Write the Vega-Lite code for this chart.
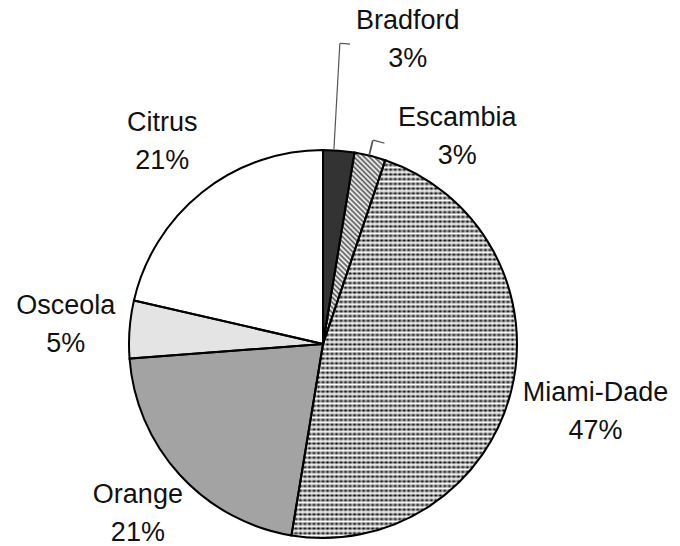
{
  "$schema": "https://vega.github.io/schema/vega-lite/v6.json",
  "autosize": {"type": "none"},
  "width": 600,
  "height": 400,
  "padding": {"left": 23, "top": 144, "right": 57, "bottom": 2},
  "background": "white",
  "config": {"view": {"stroke": null}},
  "data": {
    "values": [
      {"county": "Bradford", "value": 2.6, "idx": 1, "label": "Bradford\n3%"},
      {"county": "Escambia", "value": 2.6, "idx": 2, "label": "Escambia\n3%"},
      {"county": "Miami-Dade", "value": 47.4, "idx": 3, "label": "Miami-Dade\n47%"},
      {"county": "Orange", "value": 21.2, "idx": 4, "label": "Orange\n21%"},
      {"county": "Osceola", "value": 4.8, "idx": 5, "label": "Osceola\n5%"},
      {"county": "Citrus", "value": 21.4, "idx": 6, "label": "Citrus\n21%"}
    ]
  },
  "layer": [
    {
      "mark": {"type": "arc", "outerRadius": 194, "stroke": null},
      "encoding": {
        "theta": {"field": "value", "type": "quantitative", "stack": true, "scale": {"domain": [0, 100]}},
        "order": {"field": "idx", "type": "quantitative"},
        "color": {
          "condition": [
            {"test": "datum.county === 'Miami-Dade'", "value": {"gradient": "linear", "x1": 0, "y1": 0, "x2": 0, "y2": 1, "stops": [
              {"offset": 0, "color": "#000000"}, {"offset": 0.00625, "color": "#ffffff"}, {"offset": 0.0125, "color": "#000000"}, {"offset": 0.01875, "color": "#ffffff"}, {"offset": 0.025, "color": "#000000"}, {"offset": 0.03125, "color": "#ffffff"}, {"offset": 0.0375, "color": "#000000"}, {"offset": 0.04375, "color": "#ffffff"}, {"offset": 0.05, "color": "#000000"}, {"offset": 0.05625, "color": "#ffffff"}, {"offset": 0.0625, "color": "#000000"}, {"offset": 0.06875, "color": "#ffffff"}, {"offset": 0.075, "color": "#000000"}, {"offset": 0.08125, "color": "#ffffff"}, {"offset": 0.0875, "color": "#000000"}, {"offset": 0.09375, "color": "#ffffff"},
              {"offset": 0.1, "color": "#000000"}, {"offset": 0.10625, "color": "#ffffff"}, {"offset": 0.1125, "color": "#000000"}, {"offset": 0.11875, "color": "#ffffff"}, {"offset": 0.125, "color": "#000000"}, {"offset": 0.13125, "color": "#ffffff"}, {"offset": 0.1375, "color": "#000000"}, {"offset": 0.14375, "color": "#ffffff"}, {"offset": 0.15, "color": "#000000"}, {"offset": 0.15625, "color": "#ffffff"}, {"offset": 0.1625, "color": "#000000"}, {"offset": 0.16875, "color": "#ffffff"}, {"offset": 0.175, "color": "#000000"}, {"offset": 0.18125, "color": "#ffffff"}, {"offset": 0.1875, "color": "#000000"}, {"offset": 0.19375, "color": "#ffffff"},
              {"offset": 0.2, "color": "#000000"}, {"offset": 0.20625, "color": "#ffffff"}, {"offset": 0.2125, "color": "#000000"}, {"offset": 0.21875, "color": "#ffffff"}, {"offset": 0.225, "color": "#000000"}, {"offset": 0.23125, "color": "#ffffff"}, {"offset": 0.2375, "color": "#000000"}, {"offset": 0.24375, "color": "#ffffff"}, {"offset": 0.25, "color": "#000000"}, {"offset": 0.25625, "color": "#ffffff"}, {"offset": 0.2625, "color": "#000000"}, {"offset": 0.26875, "color": "#ffffff"}, {"offset": 0.275, "color": "#000000"}, {"offset": 0.28125, "color": "#ffffff"}, {"offset": 0.2875, "color": "#000000"}, {"offset": 0.29375, "color": "#ffffff"},
              {"offset": 0.3, "color": "#000000"}, {"offset": 0.30625, "color": "#ffffff"}, {"offset": 0.3125, "color": "#000000"}, {"offset": 0.31875, "color": "#ffffff"}, {"offset": 0.325, "color": "#000000"}, {"offset": 0.33125, "color": "#ffffff"}, {"offset": 0.3375, "color": "#000000"}, {"offset": 0.34375, "color": "#ffffff"}, {"offset": 0.35, "color": "#000000"}, {"offset": 0.35625, "color": "#ffffff"}, {"offset": 0.3625, "color": "#000000"}, {"offset": 0.36875, "color": "#ffffff"}, {"offset": 0.375, "color": "#000000"}, {"offset": 0.38125, "color": "#ffffff"}, {"offset": 0.3875, "color": "#000000"}, {"offset": 0.39375, "color": "#ffffff"},
              {"offset": 0.4, "color": "#000000"}, {"offset": 0.40625, "color": "#ffffff"}, {"offset": 0.4125, "color": "#000000"}, {"offset": 0.41875, "color": "#ffffff"}, {"offset": 0.425, "color": "#000000"}, {"offset": 0.43125, "color": "#ffffff"}, {"offset": 0.4375, "color": "#000000"}, {"offset": 0.44375, "color": "#ffffff"}, {"offset": 0.45, "color": "#000000"}, {"offset": 0.45625, "color": "#ffffff"}, {"offset": 0.4625, "color": "#000000"}, {"offset": 0.46875, "color": "#ffffff"}, {"offset": 0.475, "color": "#000000"}, {"offset": 0.48125, "color": "#ffffff"}, {"offset": 0.4875, "color": "#000000"}, {"offset": 0.49375, "color": "#ffffff"},
              {"offset": 0.5, "color": "#000000"}, {"offset": 0.50625, "color": "#ffffff"}, {"offset": 0.5125, "color": "#000000"}, {"offset": 0.51875, "color": "#ffffff"}, {"offset": 0.525, "color": "#000000"}, {"offset": 0.53125, "color": "#ffffff"}, {"offset": 0.5375, "color": "#000000"}, {"offset": 0.54375, "color": "#ffffff"}, {"offset": 0.55, "color": "#000000"}, {"offset": 0.55625, "color": "#ffffff"}, {"offset": 0.5625, "color": "#000000"}, {"offset": 0.56875, "color": "#ffffff"}, {"offset": 0.575, "color": "#000000"}, {"offset": 0.58125, "color": "#ffffff"}, {"offset": 0.5875, "color": "#000000"}, {"offset": 0.59375, "color": "#ffffff"},
              {"offset": 0.6, "color": "#000000"}, {"offset": 0.60625, "color": "#ffffff"}, {"offset": 0.6125, "color": "#000000"}, {"offset": 0.61875, "color": "#ffffff"}, {"offset": 0.625, "color": "#000000"}, {"offset": 0.63125, "color": "#ffffff"}, {"offset": 0.6375, "color": "#000000"}, {"offset": 0.64375, "color": "#ffffff"}, {"offset": 0.65, "color": "#000000"}, {"offset": 0.65625, "color": "#ffffff"}, {"offset": 0.6625, "color": "#000000"}, {"offset": 0.66875, "color": "#ffffff"}, {"offset": 0.675, "color": "#000000"}, {"offset": 0.68125, "color": "#ffffff"}, {"offset": 0.6875, "color": "#000000"}, {"offset": 0.69375, "color": "#ffffff"},
              {"offset": 0.7, "color": "#000000"}, {"offset": 0.70625, "color": "#ffffff"}, {"offset": 0.7125, "color": "#000000"}, {"offset": 0.71875, "color": "#ffffff"}, {"offset": 0.725, "color": "#000000"}, {"offset": 0.73125, "color": "#ffffff"}, {"offset": 0.7375, "color": "#000000"}, {"offset": 0.74375, "color": "#ffffff"}, {"offset": 0.75, "color": "#000000"}, {"offset": 0.75625, "color": "#ffffff"}, {"offset": 0.7625, "color": "#000000"}, {"offset": 0.76875, "color": "#ffffff"}, {"offset": 0.775, "color": "#000000"}, {"offset": 0.78125, "color": "#ffffff"}, {"offset": 0.7875, "color": "#000000"}, {"offset": 0.79375, "color": "#ffffff"},
              {"offset": 0.8, "color": "#000000"}, {"offset": 0.80625, "color": "#ffffff"}, {"offset": 0.8125, "color": "#000000"}, {"offset": 0.81875, "color": "#ffffff"}, {"offset": 0.825, "color": "#000000"}, {"offset": 0.83125, "color": "#ffffff"}, {"offset": 0.8375, "color": "#000000"}, {"offset": 0.84375, "color": "#ffffff"}, {"offset": 0.85, "color": "#000000"}, {"offset": 0.85625, "color": "#ffffff"}, {"offset": 0.8625, "color": "#000000"}, {"offset": 0.86875, "color": "#ffffff"}, {"offset": 0.875, "color": "#000000"}, {"offset": 0.88125, "color": "#ffffff"}, {"offset": 0.8875, "color": "#000000"}, {"offset": 0.89375, "color": "#ffffff"},
              {"offset": 0.9, "color": "#000000"}, {"offset": 0.90625, "color": "#ffffff"}, {"offset": 0.9125, "color": "#000000"}, {"offset": 0.91875, "color": "#ffffff"}, {"offset": 0.925, "color": "#000000"}, {"offset": 0.93125, "color": "#ffffff"}, {"offset": 0.9375, "color": "#000000"}, {"offset": 0.94375, "color": "#ffffff"}, {"offset": 0.95, "color": "#000000"}, {"offset": 0.95625, "color": "#ffffff"}, {"offset": 0.9625, "color": "#000000"}, {"offset": 0.96875, "color": "#ffffff"}, {"offset": 0.975, "color": "#000000"}, {"offset": 0.98125, "color": "#ffffff"}, {"offset": 0.9875, "color": "#000000"}, {"offset": 0.99375, "color": "#ffffff"},
              {"offset": 1, "color": "#000000"}
            ]}},
            {"test": "datum.county === 'Escambia'", "value": {"gradient": "linear", "x1": 1, "y1": 0, "x2": 0.611, "y2": 1.198, "stops": [
              {"offset": 0, "color": "#555555"}, {"offset": 0.01, "color": "#ffffff"}, {"offset": 0.02, "color": "#555555"}, {"offset": 0.03, "color": "#ffffff"}, {"offset": 0.04, "color": "#555555"}, {"offset": 0.05, "color": "#ffffff"}, {"offset": 0.06, "color": "#555555"}, {"offset": 0.07, "color": "#ffffff"}, {"offset": 0.08, "color": "#555555"}, {"offset": 0.09, "color": "#ffffff"},
              {"offset": 0.1, "color": "#555555"}, {"offset": 0.11, "color": "#ffffff"}, {"offset": 0.12, "color": "#555555"}, {"offset": 0.13, "color": "#ffffff"}, {"offset": 0.14, "color": "#555555"}, {"offset": 0.15, "color": "#ffffff"}, {"offset": 0.16, "color": "#555555"}, {"offset": 0.17, "color": "#ffffff"}, {"offset": 0.18, "color": "#555555"}, {"offset": 0.19, "color": "#ffffff"},
              {"offset": 0.2, "color": "#555555"}, {"offset": 0.21, "color": "#ffffff"}, {"offset": 0.22, "color": "#555555"}, {"offset": 0.23, "color": "#ffffff"}, {"offset": 0.24, "color": "#555555"}, {"offset": 0.25, "color": "#ffffff"}, {"offset": 0.26, "color": "#555555"}, {"offset": 0.27, "color": "#ffffff"}, {"offset": 0.28, "color": "#555555"}, {"offset": 0.29, "color": "#ffffff"},
              {"offset": 0.3, "color": "#555555"}, {"offset": 0.31, "color": "#ffffff"}, {"offset": 0.32, "color": "#555555"}, {"offset": 0.33, "color": "#ffffff"}, {"offset": 0.34, "color": "#555555"}, {"offset": 0.35, "color": "#ffffff"}, {"offset": 0.36, "color": "#555555"}, {"offset": 0.37, "color": "#ffffff"}, {"offset": 0.38, "color": "#555555"}, {"offset": 0.39, "color": "#ffffff"},
              {"offset": 0.4, "color": "#555555"}, {"offset": 0.41, "color": "#ffffff"}, {"offset": 0.42, "color": "#555555"}, {"offset": 0.43, "color": "#ffffff"}, {"offset": 0.44, "color": "#555555"}, {"offset": 0.45, "color": "#ffffff"}, {"offset": 0.46, "color": "#555555"}, {"offset": 0.47, "color": "#ffffff"}, {"offset": 0.48, "color": "#555555"}, {"offset": 0.49, "color": "#ffffff"},
              {"offset": 0.5, "color": "#555555"}, {"offset": 0.51, "color": "#ffffff"}, {"offset": 0.52, "color": "#555555"}, {"offset": 0.53, "color": "#ffffff"}, {"offset": 0.54, "color": "#555555"}, {"offset": 0.55, "color": "#ffffff"}, {"offset": 0.56, "color": "#555555"}, {"offset": 0.57, "color": "#ffffff"}, {"offset": 0.58, "color": "#555555"}, {"offset": 0.59, "color": "#ffffff"},
              {"offset": 0.6, "color": "#555555"}, {"offset": 0.61, "color": "#ffffff"}, {"offset": 0.62, "color": "#555555"}, {"offset": 0.63, "color": "#ffffff"}, {"offset": 0.64, "color": "#555555"}, {"offset": 0.65, "color": "#ffffff"}, {"offset": 0.66, "color": "#555555"}, {"offset": 0.67, "color": "#ffffff"}, {"offset": 0.68, "color": "#555555"}, {"offset": 0.69, "color": "#ffffff"},
              {"offset": 0.7, "color": "#555555"}, {"offset": 0.71, "color": "#ffffff"}, {"offset": 0.72, "color": "#555555"}, {"offset": 0.73, "color": "#ffffff"}, {"offset": 0.74, "color": "#555555"}, {"offset": 0.75, "color": "#ffffff"}, {"offset": 0.76, "color": "#555555"}, {"offset": 0.77, "color": "#ffffff"}, {"offset": 0.78, "color": "#555555"}, {"offset": 0.79, "color": "#ffffff"},
              {"offset": 0.8, "color": "#555555"}, {"offset": 0.81, "color": "#ffffff"}, {"offset": 0.82, "color": "#555555"}, {"offset": 0.83, "color": "#ffffff"}, {"offset": 0.84, "color": "#555555"}, {"offset": 0.85, "color": "#ffffff"}, {"offset": 0.86, "color": "#555555"}, {"offset": 0.87, "color": "#ffffff"}, {"offset": 0.88, "color": "#555555"}, {"offset": 0.89, "color": "#ffffff"},
              {"offset": 0.9, "color": "#555555"}, {"offset": 0.91, "color": "#ffffff"}, {"offset": 0.92, "color": "#555555"}, {"offset": 0.93, "color": "#ffffff"}, {"offset": 0.94, "color": "#555555"}, {"offset": 0.95, "color": "#ffffff"}, {"offset": 0.96, "color": "#555555"}, {"offset": 0.97, "color": "#ffffff"}, {"offset": 0.98, "color": "#555555"}, {"offset": 0.99, "color": "#ffffff"},
              {"offset": 1, "color": "#555555"}
            ]}}
          ],
          "field": "county", "type": "nominal", "legend": null,
          "scale": {
            "domain": ["Bradford", "Escambia", "Miami-Dade", "Orange", "Osceola", "Citrus"],
            "range": ["#333333", "#c4c4c4", "#a8a8a8", "#a3a3a3", "#e4e4e4", "#ffffff"]
          }
        }
      }
    },
    {
      "mark": {"type": "arc", "outerRadius": 194, "stroke": null},
      "encoding": {
        "theta": {"field": "value", "type": "quantitative", "stack": true},
        "order": {"field": "idx", "type": "quantitative"},
        "color": {
          "condition": {"test": "datum.county === 'Miami-Dade'", "value": {"gradient": "linear", "x1": 0, "y1": 0, "x2": 1, "y2": 0, "stops": [
            {"offset": 0, "color": "rgba(255,255,255,0)"}, {"offset": 0.01, "color": "rgba(255,255,255,0.6)"}, {"offset": 0.02, "color": "rgba(255,255,255,0)"}, {"offset": 0.03, "color": "rgba(255,255,255,0.6)"}, {"offset": 0.04, "color": "rgba(255,255,255,0)"}, {"offset": 0.05, "color": "rgba(255,255,255,0.6)"}, {"offset": 0.06, "color": "rgba(255,255,255,0)"}, {"offset": 0.07, "color": "rgba(255,255,255,0.6)"}, {"offset": 0.08, "color": "rgba(255,255,255,0)"}, {"offset": 0.09, "color": "rgba(255,255,255,0.6)"},
            {"offset": 0.1, "color": "rgba(255,255,255,0)"}, {"offset": 0.11, "color": "rgba(255,255,255,0.6)"}, {"offset": 0.12, "color": "rgba(255,255,255,0)"}, {"offset": 0.13, "color": "rgba(255,255,255,0.6)"}, {"offset": 0.14, "color": "rgba(255,255,255,0)"}, {"offset": 0.15, "color": "rgba(255,255,255,0.6)"}, {"offset": 0.16, "color": "rgba(255,255,255,0)"}, {"offset": 0.17, "color": "rgba(255,255,255,0.6)"}, {"offset": 0.18, "color": "rgba(255,255,255,0)"}, {"offset": 0.19, "color": "rgba(255,255,255,0.6)"},
            {"offset": 0.2, "color": "rgba(255,255,255,0)"}, {"offset": 0.21, "color": "rgba(255,255,255,0.6)"}, {"offset": 0.22, "color": "rgba(255,255,255,0)"}, {"offset": 0.23, "color": "rgba(255,255,255,0.6)"}, {"offset": 0.24, "color": "rgba(255,255,255,0)"}, {"offset": 0.25, "color": "rgba(255,255,255,0.6)"}, {"offset": 0.26, "color": "rgba(255,255,255,0)"}, {"offset": 0.27, "color": "rgba(255,255,255,0.6)"}, {"offset": 0.28, "color": "rgba(255,255,255,0)"}, {"offset": 0.29, "color": "rgba(255,255,255,0.6)"},
            {"offset": 0.3, "color": "rgba(255,255,255,0)"}, {"offset": 0.31, "color": "rgba(255,255,255,0.6)"}, {"offset": 0.32, "color": "rgba(255,255,255,0)"}, {"offset": 0.33, "color": "rgba(255,255,255,0.6)"}, {"offset": 0.34, "color": "rgba(255,255,255,0)"}, {"offset": 0.35, "color": "rgba(255,255,255,0.6)"}, {"offset": 0.36, "color": "rgba(255,255,255,0)"}, {"offset": 0.37, "color": "rgba(255,255,255,0.6)"}, {"offset": 0.38, "color": "rgba(255,255,255,0)"}, {"offset": 0.39, "color": "rgba(255,255,255,0.6)"},
            {"offset": 0.4, "color": "rgba(255,255,255,0)"}, {"offset": 0.41, "color": "rgba(255,255,255,0.6)"}, {"offset": 0.42, "color": "rgba(255,255,255,0)"}, {"offset": 0.43, "color": "rgba(255,255,255,0.6)"}, {"offset": 0.44, "color": "rgba(255,255,255,0)"}, {"offset": 0.45, "color": "rgba(255,255,255,0.6)"}, {"offset": 0.46, "color": "rgba(255,255,255,0)"}, {"offset": 0.47, "color": "rgba(255,255,255,0.6)"}, {"offset": 0.48, "color": "rgba(255,255,255,0)"}, {"offset": 0.49, "color": "rgba(255,255,255,0.6)"},
            {"offset": 0.5, "color": "rgba(255,255,255,0)"}, {"offset": 0.51, "color": "rgba(255,255,255,0.6)"}, {"offset": 0.52, "color": "rgba(255,255,255,0)"}, {"offset": 0.53, "color": "rgba(255,255,255,0.6)"}, {"offset": 0.54, "color": "rgba(255,255,255,0)"}, {"offset": 0.55, "color": "rgba(255,255,255,0.6)"}, {"offset": 0.56, "color": "rgba(255,255,255,0)"}, {"offset": 0.57, "color": "rgba(255,255,255,0.6)"}, {"offset": 0.58, "color": "rgba(255,255,255,0)"}, {"offset": 0.59, "color": "rgba(255,255,255,0.6)"},
            {"offset": 0.6, "color": "rgba(255,255,255,0)"}, {"offset": 0.61, "color": "rgba(255,255,255,0.6)"}, {"offset": 0.62, "color": "rgba(255,255,255,0)"}, {"offset": 0.63, "color": "rgba(255,255,255,0.6)"}, {"offset": 0.64, "color": "rgba(255,255,255,0)"}, {"offset": 0.65, "color": "rgba(255,255,255,0.6)"}, {"offset": 0.66, "color": "rgba(255,255,255,0)"}, {"offset": 0.67, "color": "rgba(255,255,255,0.6)"}, {"offset": 0.68, "color": "rgba(255,255,255,0)"}, {"offset": 0.69, "color": "rgba(255,255,255,0.6)"},
            {"offset": 0.7, "color": "rgba(255,255,255,0)"}, {"offset": 0.71, "color": "rgba(255,255,255,0.6)"}, {"offset": 0.72, "color": "rgba(255,255,255,0)"}, {"offset": 0.73, "color": "rgba(255,255,255,0.6)"}, {"offset": 0.74, "color": "rgba(255,255,255,0)"}, {"offset": 0.75, "color": "rgba(255,255,255,0.6)"}, {"offset": 0.76, "color": "rgba(255,255,255,0)"}, {"offset": 0.77, "color": "rgba(255,255,255,0.6)"}, {"offset": 0.78, "color": "rgba(255,255,255,0)"}, {"offset": 0.79, "color": "rgba(255,255,255,0.6)"},
            {"offset": 0.8, "color": "rgba(255,255,255,0)"}, {"offset": 0.81, "color": "rgba(255,255,255,0.6)"}, {"offset": 0.82, "color": "rgba(255,255,255,0)"}, {"offset": 0.83, "color": "rgba(255,255,255,0.6)"}, {"offset": 0.84, "color": "rgba(255,255,255,0)"}, {"offset": 0.85, "color": "rgba(255,255,255,0.6)"}, {"offset": 0.86, "color": "rgba(255,255,255,0)"}, {"offset": 0.87, "color": "rgba(255,255,255,0.6)"}, {"offset": 0.88, "color": "rgba(255,255,255,0)"}, {"offset": 0.89, "color": "rgba(255,255,255,0.6)"},
            {"offset": 0.9, "color": "rgba(255,255,255,0)"}, {"offset": 0.91, "color": "rgba(255,255,255,0.6)"}, {"offset": 0.92, "color": "rgba(255,255,255,0)"}, {"offset": 0.93, "color": "rgba(255,255,255,0.6)"}, {"offset": 0.94, "color": "rgba(255,255,255,0)"}, {"offset": 0.95, "color": "rgba(255,255,255,0.6)"}, {"offset": 0.96, "color": "rgba(255,255,255,0)"}, {"offset": 0.97, "color": "rgba(255,255,255,0.6)"}, {"offset": 0.98, "color": "rgba(255,255,255,0)"}, {"offset": 0.99, "color": "rgba(255,255,255,0.6)"},
            {"offset": 1, "color": "rgba(255,255,255,0)"}
          ]}},
          "value": "transparent"
        }
      }
    },
    {
      "mark": {"type": "arc", "outerRadius": 194, "fill": null, "stroke": "black", "strokeWidth": 2},
      "encoding": {
        "theta": {"field": "value", "type": "quantitative", "stack": true},
        "order": {"field": "idx", "type": "quantitative"}
      }
    },
    {
      "transform": [{"stack": "value", "groupby": [], "sort": [{"field": "idx", "order": "ascending"}], "as": ["v0", "v1"]}],
      "mark": {"type": "arc", "fill": null, "stroke": "#555555", "strokeWidth": 1.2, "thetaOffset": 0.056, "theta2Offset": 0.056},
      "encoding": {
        "theta": {"field": "v0", "type": "quantitative"},
        "theta2": {"field": "v0"},
        "radius": {"value": 301},
        "radius2": {"value": 195},
        "strokeOpacity": {"condition": {"test": "datum.county === 'Bradford'", "value": 1}, "value": 0}
      }
    },
    {
      "transform": [{"stack": "value", "groupby": [], "sort": [{"field": "idx", "order": "ascending"}], "as": ["v0", "v1"]}],
      "mark": {"type": "arc", "fill": null, "stroke": "#555555", "strokeWidth": 1.2, "thetaOffset": 0.056, "theta2Offset": 0.09},
      "encoding": {
        "theta": {"field": "v0", "type": "quantitative"},
        "theta2": {"field": "v0"},
        "radius": {"value": 301},
        "radius2": {"value": 301},
        "strokeOpacity": {"condition": {"test": "datum.county === 'Bradford'", "value": 1}, "value": 0}
      }
    },
    {
      "transform": [{"stack": "value", "groupby": [], "sort": [{"field": "idx", "order": "ascending"}], "as": ["v0", "v1"]}],
      "mark": {"type": "arc", "fill": null, "stroke": "#555555", "strokeWidth": 1.2, "thetaOffset": 0.075, "theta2Offset": 0.078},
      "encoding": {
        "theta": {"field": "v0", "type": "quantitative"},
        "theta2": {"field": "v0"},
        "radius": {"value": 209},
        "radius2": {"value": 195},
        "strokeOpacity": {"condition": {"test": "datum.county === 'Escambia'", "value": 1}, "value": 0}
      }
    },
    {
      "transform": [{"stack": "value", "groupby": [], "sort": [{"field": "idx", "order": "ascending"}], "as": ["v0", "v1"]}],
      "mark": {"type": "arc", "fill": null, "stroke": "#555555", "strokeWidth": 1.2, "thetaOffset": 0.078, "theta2Offset": 0.134},
      "encoding": {
        "theta": {"field": "v0", "type": "quantitative"},
        "theta2": {"field": "v0"},
        "radius": {"value": 210},
        "radius2": {"value": 210},
        "strokeOpacity": {"condition": {"test": "datum.county === 'Escambia'", "value": 1}, "value": 0}
      }
    },
    {
      "mark": {"type": "text", "font": "Liberation Sans", "fontSize": 27, "lineBreak": "\n", "lineHeight": 38, "align": "center", "baseline": "middle", "dy": -19, "color": "#111111"},
      "encoding": {
        "theta": {"field": "value", "type": "quantitative", "stack": true},
        "order": {"field": "idx", "type": "quantitative"},
        "radius": {"value": 258},
        "text": {"condition": {"test": "indexof(['Osceola','Citrus'], datum.county) >= 0", "field": "label"}, "value": ""}
      }
    },
    {
      "mark": {"type": "text", "font": "Liberation Sans", "fontSize": 27, "lineBreak": "\n", "lineHeight": 38, "align": "center", "baseline": "middle", "dy": -19, "color": "#111111"},
      "encoding": {
        "theta": {"field": "value", "type": "quantitative", "stack": true},
        "order": {"field": "idx", "type": "quantitative"},
        "radius": {"value": 251},
        "text": {"condition": {"test": "datum.county === 'Orange'", "field": "label"}, "value": ""}
      }
    },
    {
      "mark": {"type": "text", "font": "Liberation Sans", "fontSize": 27, "lineBreak": "\n", "lineHeight": 38, "align": "center", "baseline": "middle", "dy": -19, "color": "#111111"},
      "encoding": {
        "theta": {"field": "value", "type": "quantitative", "stack": true},
        "order": {"field": "idx", "type": "quantitative"},
        "radius": {"value": 281},
        "text": {"condition": {"test": "datum.county === 'Miami-Dade'", "field": "label"}, "value": ""}
      }
    },
    {
      "mark": {"type": "text", "font": "Liberation Sans", "fontSize": 27, "lineBreak": "\n", "lineHeight": 38, "align": "center", "baseline": "middle", "dy": -19, "color": "#111111", "thetaOffset": 0.19},
      "encoding": {
        "theta": {"field": "value", "type": "quantitative", "stack": true},
        "order": {"field": "idx", "type": "quantitative"},
        "radius": {"value": 316},
        "text": {"condition": {"test": "datum.county === 'Bradford'", "field": "label"}, "value": ""}
      }
    },
    {
      "mark": {"type": "text", "font": "Liberation Sans", "fontSize": 27, "lineBreak": "\n", "lineHeight": 38, "align": "center", "baseline": "middle", "dy": -19, "color": "#111111", "thetaOffset": 0.33},
      "encoding": {
        "theta": {"field": "value", "type": "quantitative", "stack": true},
        "order": {"field": "idx", "type": "quantitative"},
        "radius": {"value": 247},
        "text": {"condition": {"test": "datum.county === 'Escambia'", "field": "label"}, "value": ""}
      }
    }
  ]
}
